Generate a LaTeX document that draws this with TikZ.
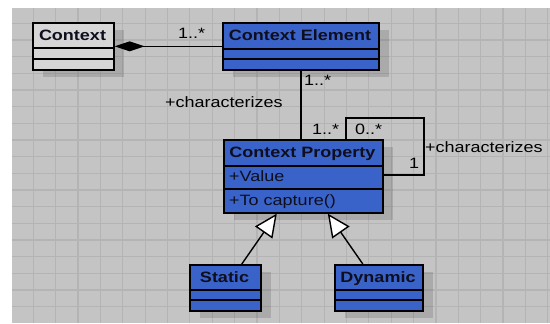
\documentclass[tikz,border=0pt]{standalone}
\usepackage{fontspec}
\setmainfont{Liberation Sans}[FakeStretch=1.2]
\usetikzlibrary{arrows.meta,shadows}
\definecolor{canvasgray}{RGB}{196,196,196}
\definecolor{gridgray}{RGB}{180,180,180}
\definecolor{umlblue}{RGB}{57,99,200}
\definecolor{umlgray}{RGB}{214,214,214}
\definecolor{inkdark}{RGB}{14,14,30}
\begin{document}
\begin{tikzpicture}[x=1bp,y=-1bp,
  font=\fontsize{15bp}{18bp}\selectfont,
  classbox/.style={draw=black, line width=1.6bp, fill=umlblue, inner sep=0pt,
    anchor=north west,
    drop shadow={shadow xshift=10bp, shadow yshift=-7bp, fill=black, opacity=0.13}},
  plainbox/.style={classbox, fill=umlgray},
  divider/.style={draw=black, line width=1.6bp},
  classname/.style={anchor=base, inner sep=0pt, text=inkdark, font=\fontsize{15bp}{18bp}\selectfont\bfseries},
  member/.style={anchor=base west, inner sep=0pt, text=inkdark},
  rolelabel/.style={anchor=base west, inner sep=0pt, text=black},
  assoc/.style={draw=black, line width=1.4bp},
  gen/.style={assoc, -{Triangle[length=23bp,width=21bp,fill=white]}},
  comp/.style={assoc, {Diamond[length=30bp,width=10bp]}-},
  gridline/.style={draw=gridgray, line width=1.2bp}
]
\useasboundingbox (0,0) rectangle (550,323);
% drawing canvas with grid
\fill[canvasgray] (12,7.5) rectangle (550,323);
\foreach \k in {0,...,23}
  \draw[gridline] ({33.3+22.37*\k},7.5) -- ({33.3+22.37*\k},323);
\foreach \k in {1,...,18}
  \draw[gridline] (12,{6.7+16.67*\k}) -- (550,{6.7+16.67*\k});

% classes
\node[plainbox, minimum width=81bp, minimum height=47bp] (ctx) at (32,22) {};
\draw[divider] (ctx.west |- 0,48) -- (ctx.east |- 0,48);
\draw[divider] (ctx.west |- 0,59) -- (ctx.east |- 0,59);
\node[classname] (ctxname) at (72.5,40) {Context};

\node[classbox, minimum width=156bp, minimum height=47bp] (ce) at (222,22) {};
\draw[divider] (ce.west |- 0,49) -- (ce.east |- 0,49);
\draw[divider] (ce.west |- 0,59) -- (ce.east |- 0,59);
\node[classname] (cename) at (300,40) {Context Element};

\node[classbox, minimum width=159bp, minimum height=73bp] (cp) at (223,139) {};
\draw[divider] (cp.west |- 0,166) -- (cp.east |- 0,166);
\draw[divider] (cp.west |- 0,189) -- (cp.east |- 0,189);
\node[classname] (cpname) at (302.5,157) {Context Property};
\node[member] (cpattr) at (229,181.5) {+Value};
\node[member] (cpop) at (229,205.5) {+To capture()};

\node[classbox, minimum width=71bp, minimum height=46bp] (st) at (189,264) {};
\draw[divider] (st.west |- 0,290) -- (st.east |- 0,290);
\draw[divider] (st.west |- 0,300) -- (st.east |- 0,300);
\node[classname] (stname) at (224.5,282) {Static};

\node[classbox, minimum width=88bp, minimum height=46bp] (dyn) at (334,264) {};
\draw[divider] (dyn.west |- 0,290) -- (dyn.east |- 0,290);
\draw[divider] (dyn.west |- 0,300) -- (dyn.east |- 0,300);
\node[classname] (dynname) at (378,282) {Dynamic};

% composition
\draw[comp] (ctx.east) -- (ce.west);
\node[rolelabel] (m1) at (178,38.5) {1..*};

% characterizes: element -- property
\draw[assoc] (ce.south) -- (ce.south |- cp.north);
\node[rolelabel] (m2) at (304,85.5) {1..*};
\node[rolelabel] (m3) at (312,134) {1..*};
\node[rolelabel] (r1) at (165,107.5) {+characterizes};

% characterizes: self association
\coordinate (loopTL) at (346,118);
\coordinate (loopBR) at (424,175);
\draw[assoc] (loopTL |- cp.north) -- (loopTL) -| (loopBR) -- (loopBR -| cp.east);
\node[rolelabel] (m4) at (355,134) {0..*};
\node[rolelabel] (m5) at (409,168) {1};
\node[rolelabel] (r2) at (425,152.5) {+characterizes};

% generalizations
\draw[gen] ([xshift=16.5bp]st.north) -- ([xshift=-26.5bp]cp.south);
\draw[gen] ([xshift=-16bp]dyn.north) -- ([xshift=24.5bp]cp.south);
\end{tikzpicture}
\end{document}
